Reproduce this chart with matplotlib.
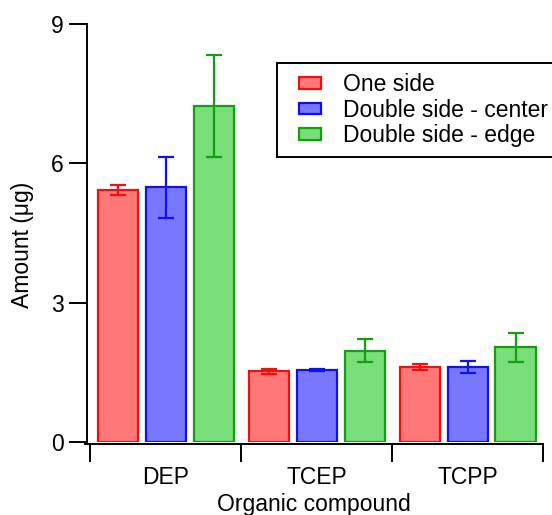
import numpy as np
import matplotlib.pyplot as plt
from matplotlib.ticker import FixedLocator
from matplotlib.patches import Rectangle
from matplotlib.container import BarContainer
from matplotlib.legend_handler import HandlerPatch, update_from_first_child

plt.rcParams['font.family'] = ['Liberation Sans', 'DejaVu Sans']

compounds = ["DEP", "TCEP", "TCPP"]
series = ["One side", "Double side - center", "Double side - edge"]
one_side = [5.43, 1.52, 1.62]
one_side_err = [0.11, 0.06, 0.06]
center = [5.48, 1.55, 1.62]
center_err = [0.65, 0.03, 0.13]
edge = [7.24, 1.97, 2.04]
edge_err = [1.1, 0.24, 0.31]

faces = ["#ff7878", "#7878ff", "#7ade7a"]
edges = ["#ee1111", "#1111ee", "#12a012"]

fs = 16.5

fig = plt.figure(figsize=(5.52, 5.15), dpi=100)
ax = fig.add_axes([85 / 552, 1 - 442 / 515, 458 / 552, 418 / 515])

x = np.arange(len(compounds))
pitch = 48 / 151
width = 40 / 151
for i, (vals, errs) in enumerate([(one_side, one_side_err), (center, center_err), (edge, edge_err)]):
    pos = x + (i - 1) * pitch
    ax.bar(pos, vals, width, color=faces[i], edgecolor=edges[i], linewidth=1.6, label=series[i])
    ax.errorbar(pos, vals, yerr=errs, fmt="none", ecolor=edges[i], elinewidth=1.6,
                capsize=6, capthick=1.6)

ax.set_xlim(-0.5 - 5 / 151, 2.5)
ax.set_ylim(0, 9)
ax.set_yticks([0, 3, 6, 9])
ax.tick_params(axis="y", direction="out", length=13, width=1.4, labelsize=fs, pad=4)

ax.xaxis.set_major_locator(FixedLocator([-0.5, 0.5, 1.5, 2.5]))
ax.xaxis.set_minor_locator(FixedLocator(list(x)))
ax.set_xticklabels([], minor=False)
ax.set_xticklabels(compounds, minor=True)
ax.tick_params(axis="x", which="major", direction="out", length=13, width=1.4)
ax.tick_params(axis="x", which="minor", length=0, labelsize=fs, pad=16)

for s in ["top", "right"]:
    ax.spines[s].set_visible(False)
ax.spines["left"].set_position(("data", -0.5 - 3 / 151))
ax.spines["bottom"].set_position(("outward", 1.5))
ax.spines["left"].set_linewidth(1.4)
ax.spines["bottom"].set_linewidth(1.4)

ax.set_ylabel("Amount (μg)", fontsize=fs)
ax.yaxis.set_label_coords((34 - 85) / 458, (442 - 245) / 418)
ax.set_xlabel("Organic compound", fontsize=fs, labelpad=2.5)


# small swatch sitting at the right end of the handle area
def swatch(legend, orig_handle, xdescent, ydescent, width, height, fontsize):
    return Rectangle((-xdescent + 0.35 * width, -ydescent + 0.1 * height),
                     0.65 * width, 0.8 * height)


leg = fig.legend(loc="upper left", bbox_to_anchor=(277 / 552, 1 - 63 / 515), fontsize=fs,
                 frameon=True, fancybox=False, edgecolor="black", framealpha=1,
                 handlelength=1.48, handleheight=0.6, labelspacing=0.1, borderpad=0.45,
                 handletextpad=0.96, borderaxespad=0,
                 handler_map={BarContainer: HandlerPatch(patch_func=swatch,
                                                         update_func=update_from_first_child)})
leg.get_frame().set_linewidth(1.4)

fig.savefig("out.png", dpi=100)
